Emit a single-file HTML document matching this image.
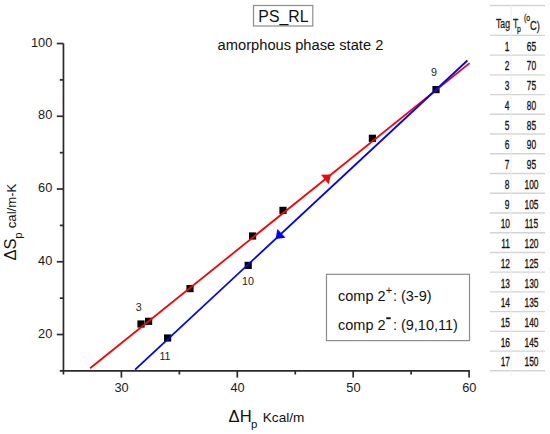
<!DOCTYPE html>
<html><head><meta charset="utf-8">
<style>
html,body{margin:0;padding:0;background:#fff;width:550px;height:434px;overflow:hidden;}
body{position:relative;font-family:"Liberation Sans",sans-serif;}
svg{position:absolute;left:0;top:0;}
svg text{font-family:"Liberation Sans",sans-serif;}
.tb{position:absolute;left:0;top:0;width:550px;height:434px;}
.tb .c{position:absolute;font-size:13.5px;color:#141414;-webkit-text-stroke:0.35px #141414;transform:scaleX(0.62);white-space:nowrap;line-height:1;}
.tb .a{transform-origin:100% 0;text-align:right;right:40px;}
.tb .b{transform-origin:50% 0;text-align:center;left:511px;width:41px;}
.tb .hd{position:absolute;font-size:12px;color:#1e1e14;-webkit-text-stroke:0.3px #1e1e14;transform:scaleX(0.72);transform-origin:0 0;white-space:nowrap;line-height:1;}
</style></head>
<body>
<svg width="550" height="434" viewBox="0 0 550 434">
  <rect x="253.5" y="5.5" width="59.3" height="20.5" fill="none" stroke="#8c8c8c" stroke-width="1.2"/>
  <text x="283.4" y="21.9" font-size="15.8" text-anchor="middle" fill="#111">PS_RL</text>
  <text id="title" x="217.6" y="50" font-size="14.7" fill="#111">amorphous phase state 2</text>
  <g stroke="#2a2a2a" stroke-width="1.7" fill="none">
    <line x1="63.45" y1="43.52" x2="63.45" y2="374.5"/>
    <line x1="59.8" y1="370.9" x2="469.90" y2="370.9"/>
    <line x1="56.8" y1="334.52" x2="63.45" y2="334.52"/>
    <line x1="56.8" y1="261.77" x2="63.45" y2="261.77"/>
    <line x1="56.8" y1="189.02" x2="63.45" y2="189.02"/>
    <line x1="56.8" y1="116.27" x2="63.45" y2="116.27"/>
    <line x1="56.8" y1="43.52" x2="63.45" y2="43.52"/>
    <line x1="59.8" y1="298.15" x2="63.45" y2="298.15"/>
    <line x1="59.8" y1="225.40" x2="63.45" y2="225.40"/>
    <line x1="59.8" y1="152.65" x2="63.45" y2="152.65"/>
    <line x1="59.8" y1="79.90" x2="63.45" y2="79.90"/>
    <line x1="121.40" y1="370.9" x2="121.40" y2="377.6"/>
    <line x1="237.30" y1="370.9" x2="237.30" y2="377.6"/>
    <line x1="353.20" y1="370.9" x2="353.20" y2="377.6"/>
    <line x1="469.10" y1="370.9" x2="469.10" y2="377.6"/>
    <line x1="179.35" y1="370.9" x2="179.35" y2="374.5"/>
    <line x1="295.25" y1="370.9" x2="295.25" y2="374.5"/>
    <line x1="411.15" y1="370.9" x2="411.15" y2="374.5"/>
  </g>
  <g font-size="12.8" fill="#1a1a1a" text-anchor="end">
    <text x="52.3" y="46.72">100</text>
    <text x="52.3" y="119.47">80</text>
    <text x="52.3" y="192.22">60</text>
    <text x="52.3" y="264.97">40</text>
    <text x="52.3" y="337.72">20</text>
  </g>
  <g font-size="12.8" fill="#1a1a1a" text-anchor="middle">
    <text x="121.60" y="391.8">30</text>
    <text x="237.50" y="391.8">40</text>
    <text x="353.40" y="391.8">50</text>
    <text x="469.30" y="391.8">60</text>
  </g>
  <text id="xlab1" x="228.6" y="421.9" font-size="16.6" fill="#111">ΔH</text>
  <text id="xlab2" x="251" y="427.6" font-size="11.4" fill="#111">p</text>
  <text id="xlab3" x="262.8" y="421.8" font-size="13.6" fill="#111">Kcal/m</text>
  <text id="ylab1" transform="translate(16,260.6) rotate(-90)" font-size="16.6" fill="#111">ΔS</text>
  <text id="ylab2" transform="translate(22.2,238.8) rotate(-90)" font-size="11.4" fill="#111">p</text>
  <text id="ylab3" transform="translate(15.6,228.3) rotate(-90)" font-size="13.2" fill="#111">cal/m-K</text>
  <g fill="#000">
    <rect x="137.4" y="320.4" width="7.2" height="7.2"/>
    <rect x="145.0" y="317.7" width="7.2" height="7.2"/>
    <rect x="186.4" y="285.0" width="7.2" height="7.2"/>
    <rect x="249.0" y="232.4" width="7.2" height="7.2"/>
    <rect x="279.4" y="206.8" width="7.2" height="7.2"/>
    <rect x="368.8" y="134.7" width="7.2" height="7.2"/>
    <rect x="432.4" y="86.0" width="7.2" height="7.2"/>
    <rect x="244.6" y="261.8" width="7.2" height="7.2"/>
    <rect x="164.0" y="334.4" width="7.2" height="7.2"/>
  </g>
  <line x1="90.1" y1="368.3" x2="469.6" y2="63.1" stroke="#ff0000" stroke-width="1.8"/>
  <line x1="135.1" y1="369.6" x2="467.4" y2="60.5" stroke="#0000ff" stroke-width="1.8"/>
  <polygon points="331.1,174.5 321.1,174.8 328.6,184.2" fill="#ff0000"/>
  <polygon points="275.6,238.9 277.4,229.1 285.5,237.8" fill="#0000ff"/>
  <g font-size="10.7" fill="#222" text-anchor="middle">
    <text x="138.8" y="311.2">3</text>
    <text x="434.1" y="76">9</text>
    <text x="248" y="285.2">10</text>
    <text x="165" y="359.6">11</text>
  </g>
  <rect x="326.5" y="274.3" width="143" height="66.3" fill="none" stroke="#8c8c8c" stroke-width="1.2"/>
  <g font-size="14.5" fill="#111">
    <text x="338" y="301">comp 2</text>
    <text x="385.8" y="294.4" font-size="11">+</text>
    <text x="392.9" y="301">: (3-9)</text>
    <text x="338" y="330">comp 2</text>
    <rect x="386.3" y="317.3" width="4.4" height="1.9"/>
    <text x="392.9" y="330">: (9,10,11)</text>
  </g>
  <g stroke="#d4d4d4" stroke-width="1.4">
    <line x1="490" y1="5.50" x2="545" y2="5.50"/>
    <line x1="490" y1="35.40" x2="545" y2="35.40"/>
    <line x1="490" y1="55.13" x2="545" y2="55.13"/>
    <line x1="490" y1="74.86" x2="545" y2="74.86"/>
    <line x1="490" y1="94.59" x2="545" y2="94.59"/>
    <line x1="490" y1="114.32" x2="545" y2="114.32"/>
    <line x1="490" y1="134.05" x2="545" y2="134.05"/>
    <line x1="490" y1="153.78" x2="545" y2="153.78"/>
    <line x1="490" y1="173.51" x2="545" y2="173.51"/>
    <line x1="490" y1="193.24" x2="545" y2="193.24"/>
    <line x1="490" y1="212.97" x2="545" y2="212.97"/>
    <line x1="490" y1="232.70" x2="545" y2="232.70"/>
    <line x1="490" y1="252.43" x2="545" y2="252.43"/>
    <line x1="490" y1="272.16" x2="545" y2="272.16"/>
    <line x1="490" y1="291.89" x2="545" y2="291.89"/>
    <line x1="490" y1="311.62" x2="545" y2="311.62"/>
    <line x1="490" y1="331.35" x2="545" y2="331.35"/>
    <line x1="490" y1="351.08" x2="545" y2="351.08"/>
    <line x1="490" y1="370.81" x2="545" y2="370.81"/>
  </g>
  <line x1="511" y1="5" x2="511" y2="376" stroke="#ececec" stroke-width="1"/>
</svg>

<div class="tb">
  <div class="c a" style="top:39.7px">1</div><div class="c b" style="top:39.7px">65</div>
  <div class="c a" style="top:59.4px">2</div><div class="c b" style="top:59.4px">70</div>
  <div class="c a" style="top:79.2px">3</div><div class="c b" style="top:79.2px">75</div>
  <div class="c a" style="top:98.9px">4</div><div class="c b" style="top:98.9px">80</div>
  <div class="c a" style="top:118.6px">5</div><div class="c b" style="top:118.6px">85</div>
  <div class="c a" style="top:138.4px">6</div><div class="c b" style="top:138.4px">90</div>
  <div class="c a" style="top:158.1px">7</div><div class="c b" style="top:158.1px">95</div>
  <div class="c a" style="top:177.8px">8</div><div class="c b" style="top:177.8px">100</div>
  <div class="c a" style="top:197.5px">9</div><div class="c b" style="top:197.5px">105</div>
  <div class="c a" style="top:217.3px">10</div><div class="c b" style="top:217.3px">115</div>
  <div class="c a" style="top:237.0px">11</div><div class="c b" style="top:237.0px">120</div>
  <div class="c a" style="top:256.7px">12</div><div class="c b" style="top:256.7px">125</div>
  <div class="c a" style="top:276.5px">13</div><div class="c b" style="top:276.5px">130</div>
  <div class="c a" style="top:296.2px">14</div><div class="c b" style="top:296.2px">135</div>
  <div class="c a" style="top:315.9px">15</div><div class="c b" style="top:315.9px">140</div>
  <div class="c a" style="top:335.6px">16</div><div class="c b" style="top:335.6px">145</div>
  <div class="c a" style="top:355.4px">17</div><div class="c b" style="top:355.4px">150</div>
  <div class="hd" style="left:496px;top:18px;">Tag</div>
  <div class="hd" style="left:512.5px;top:18px;">T</div>
  <div class="hd" style="left:516.6px;top:24px;font-size:9.5px;">p</div>
  <div class="hd" style="left:523.8px;top:13px;font-size:9.6px;">(o</div>
  <div class="hd" style="left:530.2px;top:18.5px;font-size:13px;">C)</div>
</div>
</body></html>
